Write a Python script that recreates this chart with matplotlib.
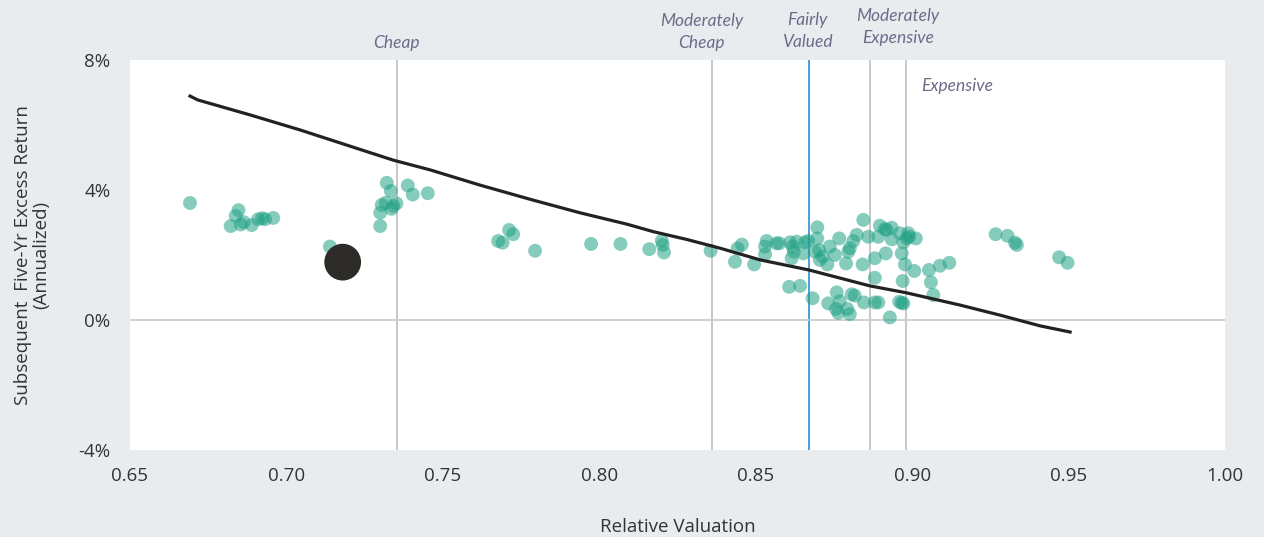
import matplotlib.pyplot as plt
from matplotlib.ticker import FuncFormatter

# relative valuation vs. subsequent five-year excess return (%)
val = [
    0.6692, 0.6847, 0.6838, 0.6822, 0.6854, 0.6864, 0.6889, 0.6910, 0.6923, 0.6932, 0.6958,
    0.7139,
    0.7321, 0.7334, 0.7388, 0.7404, 0.7452, 0.7318, 0.7305, 0.7352, 0.7342, 0.7336, 0.7300, 0.7300,
    0.7677, 0.7691, 0.7712, 0.7725, 0.7795, 0.7974, 0.8068, 0.8160, 0.8200, 0.8203, 0.8207,
    0.8356, 0.8434, 0.8442, 0.8456,
    0.8495, 0.8530, 0.8535, 0.8530, 0.8567, 0.8575, 0.8610, 0.8618, 0.8622, 0.8615, 0.8631,
    0.8652, 0.8658, 0.8668, 0.8697, 0.8697, 0.8690, 0.8703, 0.8705, 0.8714, 0.8729, 0.8737,
    0.8753, 0.8767, 0.8789, 0.8796, 0.8801, 0.8823, 0.8812, 0.8844, 0.8842, 0.8860,
    0.8607, 0.8642, 0.8682, 0.8732, 0.8759, 0.8769, 0.8757, 0.8764, 0.8793, 0.8807, 0.8817,
    0.8846, 0.8801,
    0.8897, 0.8913, 0.8919, 0.8935, 0.8892, 0.8935, 0.8961, 0.8972, 0.8988, 0.8991, 0.8983,
    0.9012, 0.8967, 0.8916, 0.8881, 0.8977, 0.9007, 0.9054, 0.9089, 0.9119, 0.8881, 0.8970,
    0.9060, 0.9068, 0.8881, 0.8892, 0.8959, 0.8967, 0.8972, 0.8929,
    0.9267, 0.9305, 0.9329, 0.9335, 0.9470, 0.9497,
]
ret = [
    3.60, 3.38, 3.20, 2.89, 2.94, 3.01, 2.92, 3.10, 3.13, 3.10, 3.14,
    2.26,
    4.22, 3.97, 4.14, 3.86, 3.90, 3.61, 3.54, 3.59, 3.51, 3.42, 3.30, 2.89,
    2.43, 2.38, 2.77, 2.64, 2.13, 2.34, 2.34, 2.18, 2.44, 2.31, 2.08,
    2.13, 1.79, 2.20, 2.32,
    1.71, 2.26, 2.43, 2.02, 2.36, 2.36, 2.39, 2.26, 2.10, 1.90, 2.41,
    2.05, 2.39, 2.43, 2.85, 2.51, 2.10, 2.15, 1.85, 1.95, 1.71, 2.26,
    2.00, 2.51, 1.74, 2.10, 2.21, 2.62, 2.43, 3.08, 1.71, 2.56,
    1.02, 1.05, 0.67, 0.51, 0.85, 0.58, 0.34, 0.22, 0.34, 0.79, 0.75,
    0.54, 0.18,
    2.90, 2.80, 2.77, 2.84, 2.56, 2.48, 2.67, 2.39, 2.67, 2.56, 2.51,
    2.51, 2.05, 2.05, 1.90, 1.71, 1.51, 1.54, 1.67, 1.76, 1.30, 1.20,
    1.16, 0.77, 0.54, 0.54, 0.56, 0.53, 0.51, 0.08,
    2.64, 2.59, 2.38, 2.31, 1.93, 1.76,
]

# fitted line
fit_x = [0.6692, 0.6717, 0.6884, 0.7043, 0.7203, 0.7341, 0.7459, 0.7619, 0.7788, 0.7938,
         0.8088, 0.8172, 0.8279, 0.8386, 0.8514, 0.8670, 0.8865, 0.8980, 0.9153, 0.9281,
         0.9409, 0.9505]
fit_y = [6.89, 6.77, 6.31, 5.85, 5.35, 4.92, 4.62, 4.15, 3.69, 3.30,
         2.95, 2.72, 2.48, 2.21, 1.85, 1.54, 1.05, 0.84, 0.46, 0.15,
         -0.18, -0.37]

# current reading
now_x, now_y = 0.718, 1.78

# valuation bands
band_x = [0.7353, 0.836, 0.867, 0.8865, 0.898]
band_labels = ["Cheap", "Moderately\nCheap", "Fairly\nValued", "Moderately\nExpensive", "Expensive"]
band_label_x = [0.7353, 0.8328, 0.8664, 0.8955, 0.9145]
band_label_y = [8.52, 8.86, 8.89, 9.02, 7.2]

plt.rcParams['font.family'] = ['Open Sans', 'DejaVu Sans']

fig = plt.figure(figsize=(12.64, 5.37), dpi=100)
fig.patch.set_facecolor('#e9ecef')
ax = fig.add_axes([0.1028, 0.162, 0.8663, 0.7263])
ax.set_facecolor('white')

for i, bx in enumerate(band_x):
    col = '#4a9fdc' if i == 2 else '#c8c8c8'
    ax.axvline(bx, color=col, lw=1.4, zorder=1)
ax.axhline(0, color='#c8c8c8', lw=1.2, zorder=1)

ax.scatter(val, ret, s=100, color='#23a286', alpha=0.55, edgecolors='none', zorder=3)
ax.plot(fit_x, fit_y, color='#222222', lw=2.3, zorder=4)
ax.scatter([now_x], [now_y], s=700, color='#2d2b28', edgecolors='none', zorder=5)

for lbl, lx, ly in zip(band_labels, band_label_x, band_label_y):
    ax.text(lx, ly, lbl, ha='center', va='center', fontsize=12.5, style='italic',
            color='#6b6b8a', linespacing=1.45, clip_on=False, family=['Lato', 'DejaVu Sans'])

ax.set_xlim(0.65, 1.00)
ax.set_ylim(-4, 8)
ax.set_xticks([0.65, 0.70, 0.75, 0.80, 0.85, 0.90, 0.95, 1.00])
ax.set_yticks([-4, 0, 4, 8])
ax.xaxis.set_major_formatter(FuncFormatter(lambda v, p: f"{v:.2f}"))
ax.yaxis.set_major_formatter(FuncFormatter(lambda v, p: f"{v:.0f}%"))
ax.tick_params(length=0, labelsize=13.5, colors='#333333')
ax.tick_params(axis='x', pad=12)
ax.tick_params(axis='y', pad=14)
for s in ax.spines.values():
    s.set_visible(False)

ax.set_xlabel("Relative Valuation", fontsize=13.5, color='#333333', labelpad=24)
ax.set_ylabel("Subsequent  Five-Yr Excess Return\n(Annualized)", fontsize=13.5,
              color='#333333', labelpad=20, linespacing=1.05)

fig.savefig("out.png", dpi=100, facecolor=fig.get_facecolor())
